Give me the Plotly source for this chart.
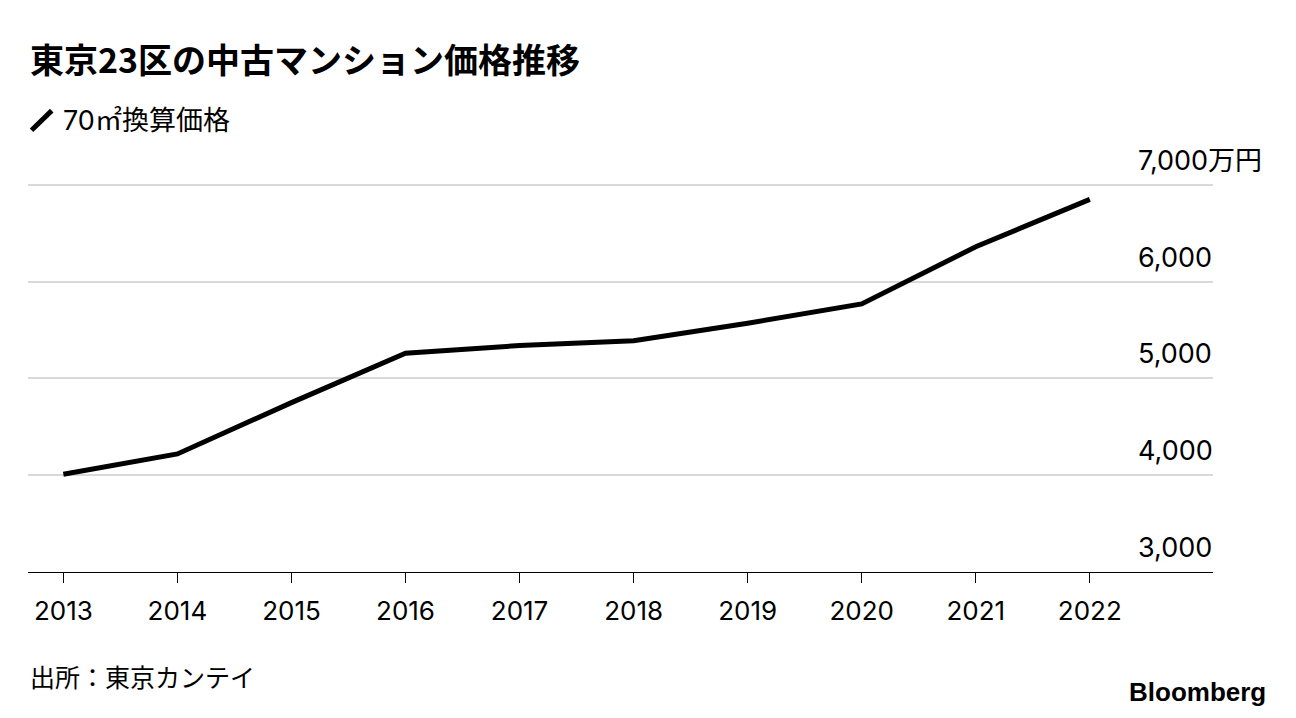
import plotly.graph_objects as go

years = [2013, 2014, 2015, 2016, 2017, 2018, 2019, 2020, 2021, 2022]
price = [4010, 4220, 4750, 5260, 5340, 5390, 5570, 5770, 6360, 6850]
tick_vals = [3000, 4000, 5000, 6000, 7000]
tick_text = ["3,000", "4,000", "5,000", "6,000", "7,000万円"]

FONT = "Inter, Noto Sans CJK JP"

fig = go.Figure()
fig.add_trace(go.Scatter(x=years, y=price, mode="lines",
                         line=dict(color="black", width=5), hoverinfo="skip"))

fig.update_layout(
    width=1288, height=710,
    paper_bgcolor="white", plot_bgcolor="white",
    margin=dict(l=20, r=83, t=172, b=146, autoexpand=False),
    showlegend=False,
    font=dict(family=FONT, size=24, color="black"),
    xaxis=dict(range=[2012.69, 2023.08], tickvals=years, ticks="outside",
               ticklen=10, tickcolor="black", showline=True, linecolor="black",
               showgrid=False, zeroline=False, tickfont=dict(size=26, color="black"),
               ticklabelstandoff=6, automargin=False),
    yaxis=dict(range=[3000, 7050], side="right", tickvals=tick_vals,
               showticklabels=False, showgrid=True,
               gridcolor="#d9d9d9", gridwidth=2, zeroline=False, showline=False,
               automargin=False),
)

# y tick labels, left-aligned above each gridline
for v, t in zip(tick_vals, tick_text):
    fig.add_annotation(text=t, x=0.935, xref="paper", y=v, yref="y",
                       xanchor="left", yanchor="bottom", yshift=6, showarrow=False,
                       font=dict(size=27))

fig.add_annotation(text="<b>東京23区の中古マンション価格推移</b>", xref="paper", yref="paper",
                   x=0, y=1.311, xanchor="left", yanchor="middle", showarrow=False,
                   font=dict(size=34, family="Noto Sans CJK JP"))
fig.add_shape(type="line", xref="paper", yref="paper", x0=0.003, x1=0.02,
              y0=1.127, y1=1.177, line=dict(color="black", width=5))
fig.add_annotation(text="70㎡換算価格", xref="paper", yref="paper",
                   x=0.028, y=1.152, xanchor="left", yanchor="middle", showarrow=False,
                   font=dict(size=27))
fig.add_annotation(text="出所：東京カンテイ", xref="paper", yref="paper",
                   x=0, y=-0.270, xanchor="left", yanchor="middle", showarrow=False,
                   font=dict(size=25))
fig.add_annotation(text="<b>Bloomberg</b>", xref="paper", yref="paper",
                   x=1.046, y=-0.306, xanchor="right", yanchor="middle", showarrow=False,
                   font=dict(size=26, family="Liberation Sans"))

fig.write_html("out.html")
